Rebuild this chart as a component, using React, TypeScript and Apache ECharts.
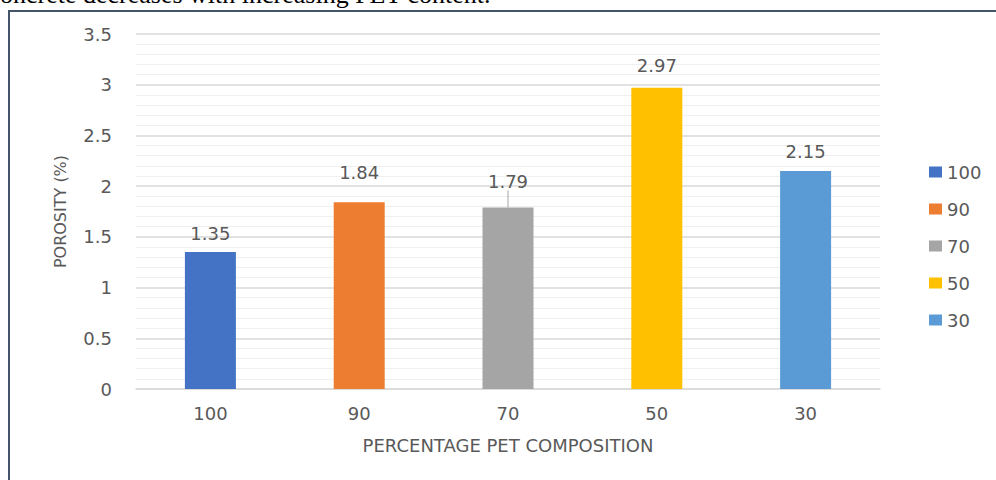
import React, { useEffect, useRef } from "react";
import * as echarts from "echarts";

// PET composition (%) categories and measured porosity (%)
const categories = ["100", "90", "70", "50", "30"];
const porosity = [1.35, 1.84, 1.79, 2.97, 2.15];
const barColors = ["#4472c4", "#ed7d31", "#a5a5a5", "#ffc000", "#5b9bd5"];
const yTicks = { min: 0, max: 3.5, interval: 0.5 };
const caption = "oncrete decreases with increasing PET content.";

const FONT = "DejaVu Sans";
const GREY = "#595959";

// extra lift for labels that were nudged clear of neighbouring text
const labelLift: Record<string, number> = { "90": -11, "70": -7, "50": -3 };

export default function App() {
  const ref = useRef<HTMLDivElement>(null);

  useEffect(() => {
    if (!ref.current) return;
    const chart = echarts.init(ref.current, undefined, { renderer: "svg" });

    // one series per composition so each gets its own legend entry
    const series = categories.map((name, i) => ({
      name,
      type: "bar",
      stack: "porosity",
      barWidth: 51,
      itemStyle: { color: barColors[i] },
      data: categories.map((_, j) => (j === i ? porosity[j] : "-")),
      label: {
        show: true,
        position: "top",
        distance: 10,
        color: GREY,
        fontFamily: FONT,
        fontSize: 18,
      },
      labelLayout: labelLift[name] ? { dy: labelLift[name] } : undefined,
      labelLine: name === "70" ? { show: true, lineStyle: { color: "#a5a5a5", width: 1 } } : undefined,
    }));

    chart.setOption({
      animation: false,
      backgroundColor: "#ffffff",
      grid: { left: 136, right: 116, top: 34, bottom: 91 },
      legend: {
        orient: "vertical",
        left: 924,
        top: 158,
        itemWidth: 13,
        itemHeight: 11,
        itemGap: 19,
        icon: "rect",
        textStyle: { color: GREY, fontFamily: FONT, fontSize: 18 },
        data: categories,
      },
      xAxis: {
        type: "category",
        data: categories,
        name: "PERCENTAGE PET COMPOSITION",
        nameLocation: "middle",
        nameGap: 47,
        nameTextStyle: { color: GREY, fontFamily: FONT, fontSize: 18 },
        axisLine: { lineStyle: { color: "#d9d9d9", width: 1.5 } },
        axisTick: { show: false },
        axisLabel: { color: GREY, fontFamily: FONT, fontSize: 18, margin: 15 },
      },
      yAxis: {
        type: "value",
        min: yTicks.min,
        max: yTicks.max,
        interval: yTicks.interval,
        name: "POROSITY (%)",
        nameLocation: "middle",
        nameGap: 68,
        nameTextStyle: { color: GREY, fontFamily: FONT, fontSize: 16 },
        axisLine: { show: false },
        axisTick: { show: false },
        axisLabel: {
          color: GREY,
          fontFamily: FONT,
          fontSize: 18,
          margin: 24,
          formatter: (v: number) => String(v),
        },
        splitLine: { lineStyle: { color: "#d9d9d9", width: 1.5 } },
        minorTick: { show: false, splitNumber: 5 },
        minorSplitLine: { show: true, lineStyle: { color: "#efefef", width: 1.2 } },
      },
      graphic: [
        {
          type: "rect",
          shape: { x: 9, y: 11, width: 1100, height: 600 },
          style: { fill: "none", stroke: "#44546a", lineWidth: 2 },
          silent: true,
          z: 100,
        },
        {
          type: "text",
          x: 0,
          y: 7,
          style: {
            text: caption,
            fontFamily: "Liberation Serif",
            fontSize: 26,
            fill: "#000000",
            verticalAlign: "bottom",
          },
          z: 100,
        },
      ],
      series,
    });

    return () => chart.dispose();
  }, []);

  return (
    <div
      ref={ref}
      style={{ position: "absolute", left: 0, top: 0, width: 996, height: 480 }}
    />
  );
}
